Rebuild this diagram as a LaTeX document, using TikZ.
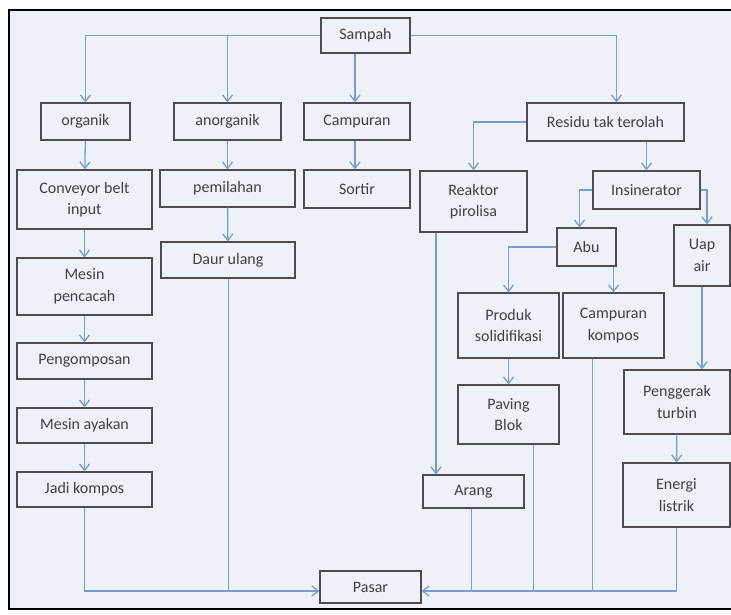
\documentclass[tikz,border=0pt]{standalone}
\usepackage{fontspec}
\setmainfont{Carlito}
\usetikzlibrary{arrows.meta}

\definecolor{paper}{RGB}{238,241,248}
\definecolor{boxline}{RGB}{80,76,78}
\definecolor{ink}{RGB}{66,64,68}
\definecolor{flow}{RGB}{122,158,204}

\tikzset{
  box/.style={draw=boxline, line width=1.1pt, text=ink, align=center,
    inner sep=0pt, font=\fontsize{16}{21.5}\selectfont},
  sz/.style 2 args={minimum width=#1pt, minimum height=#2pt},
  arr/.style={->, draw=flow, line width=1.3pt},
  lin/.style={draw=flow, line width=1pt}
}

\begin{document}
\begin{tikzpicture}[x=1pt,y=-1pt,>={Straight Barb[length=6.5pt,width=10pt]}]
      \useasboundingbox (0,0) rectangle (731,614);
      \clip (0,0) rectangle (731,614);
      \fill [white] (0,0) rectangle (731,614);
      \draw [fill=paper,line width=2pt] (9,10) rectangle (745,609);

      % top level
      \node [box,sz={89}{35}] (sampah) at (365.5,35.5) {Sampah};
      \node [box,sz={89}{37}] (organik) at (85.5,121.5) {organik};
      \node [box,sz={107}{37}] (anorganik) at (227.5,121.5) {anorganik};
      \node [box,sz={106}{37}] (campuran) at (357,121.5) {Campuran};
      \node [box,sz={157}{38}] (residu) at (605.5,122) {Residu tak terolah};

      % organik column
      \node [box,sz={135}{59}] (conveyor) at (84.5,199.5) {Conveyor belt\\input};
      \node [box,sz={135}{57}] (pencacah) at (84.5,286.5) {Mesin\\pencacah};
      \node [box,sz={135}{36}] (pengomposan) at (84.5,361) {Pengomposan};
      \node [box,sz={135}{35}] (ayakan) at (84.5,425.5) {Mesin ayakan};
      \node [box,sz={135}{35}] (jadi) at (84.5,489.5) {Jadi kompos};

      % anorganik and campuran
      \node [box,sz={135}{37}] (pemilahan) at (227.5,188.5) {pemilahan};
      \node [box,sz={134}{36}] (daur) at (228,260) {Daur ulang};
      \node [box,sz={106}{38}] (sortir) at (357,189) {Sortir};

      % residu
      \node [box,sz={107}{61}] (reaktor) at (473.5,201.5) {Reaktor\\pirolisa};
      \node [box,sz={107}{38}] (insinerator) at (646.5,190) {Insinerator};
      \node [box,sz={59}{38}] (abu) at (586.5,247) {Abu};
      \node [box,sz={56}{61}] (uap) at (702,255.5) {Uap\\air};
      \node [box,sz={101}{65}] (produk) at (508.5,325.5) {Produk\\solidifikasi};
      \node [box,sz={101}{65}] (kompos) at (613.5,325.5) {Campuran\\kompos};
      \node [box,sz={101}{59}] (paving) at (508.5,414.5) {Paving\\Blok};
      \node [box,sz={106}{64}] (penggerak) at (677,402) {Penggerak\\turbin};
      \node [box,sz={107}{64}] (energi) at (676.5,495) {Energi\\listrik};
      \node [box,sz={101}{33}] (arang) at (473.5,491.5) {Arang};

      \node [box,sz={101}{32}] (pasar) at (370.5,587) {Pasar};

      % branches from sampah
      \draw [arr] (sampah.west) -| (organik.north);
      \draw [arr] (sampah.west -| anorganik.north) -- (anorganik.north);
      \draw [arr] ([xshift=-2pt]campuran.north |- sampah.south) -- ([xshift=-2pt]campuran.north);
      \draw [arr] (sampah.east) -| ([xshift=11pt]residu.north);

      \draw [arr] (organik) -- (conveyor);
      \draw [arr] (conveyor) -- (pencacah);
      \draw [arr] (pencacah) -- (pengomposan);
      \draw [arr] (pengomposan) -- (ayakan);
      \draw [arr] (ayakan) -- (jadi);
      \draw [arr] (anorganik) -- (pemilahan);
      \draw [arr] (pemilahan) -- (daur);
      \draw [arr] ([xshift=-2pt]campuran.south) -- ([xshift=-2pt]sortir.north);

      \draw [arr] (residu.west) -| (reaktor.north);
      \draw [arr] (insinerator.north |- residu.south) -- (insinerator.north);
      \draw [arr] (insinerator.west) -| ([xshift=-7pt]abu.north);
      \draw [arr] (insinerator.east) -| ([xshift=5pt]uap.north);
      \draw [arr] (abu.west) -| (produk.north);
      \draw [arr] (kompos.north |- abu.south) -- (kompos.north);
      \draw [arr] (uap.south) -- (uap.south |- penggerak.north);
      \draw [arr] (produk) -- (paving);
      \draw [arr] (penggerak) -- (energi);
      \draw [arr] ([xshift=-37.5pt]reaktor.south) -- ([xshift=-37.5pt]reaktor.south |- arang.north);

      % into pasar
      \coordinate (busleft) at ([yshift=-4pt]pasar.west);
      \coordinate (busright) at ([yshift=-4pt]pasar.east);
      \draw [arr] (jadi.south) |- (busleft);
      \draw [lin] (daur.south) -- (daur.south |- busleft);
      \draw [arr] (energi.south) |- (busright);
      \draw [lin] ([xshift=-2pt]arang.south) -- ([xshift=-2pt]arang.south |- busright);
      \draw [lin] ([xshift=24.5pt]paving.south) -- ([xshift=24.5pt]paving.south |- busright);
      \draw [lin] ([xshift=-21.5pt]kompos.south) -- ([xshift=-21.5pt]kompos.south |- busright);
    \end{tikzpicture}
\end{document}
